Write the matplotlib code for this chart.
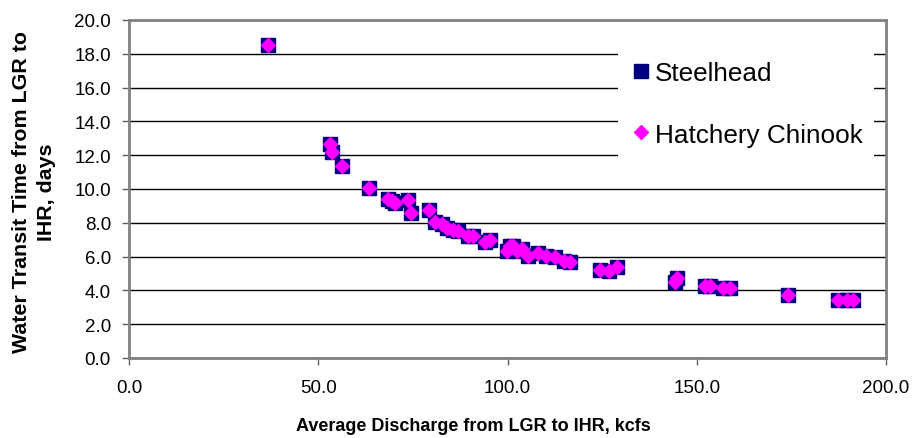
import matplotlib.pyplot as plt
from matplotlib.ticker import FormatStrFormatter

# average discharge LGR -> IHR (kcfs) and water transit time (days)
discharge = [36.8, 53.1, 53.7, 56.4, 63.5, 68.5, 69.5, 70.3, 73.8, 74.5,
             79.3, 80.8, 82.6, 83.9, 85.5, 87.0, 89.6, 91.0, 94.1, 95.4,
             99.8, 100.7, 101.5, 102.4, 103.7, 105.5, 108.1, 110.3, 112.6, 114.8,
             116.5, 124.4, 126.7, 128.8, 144.3, 144.8, 152.2, 153.5, 157.0, 158.8,
             174.2, 187.4, 189.6, 191.4]
transit_days = [18.5, 12.66, 12.17, 11.34, 10.04, 9.41, 9.30, 9.17, 9.35, 8.58,
                8.78, 8.03, 7.95, 7.67, 7.55, 7.53, 7.24, 7.24, 6.85, 7.0,
                6.35, 6.6, 6.65, 6.35, 6.45, 6.05, 6.2, 6.05, 5.95, 5.76,
                5.70, 5.23, 5.17, 5.37, 4.5, 4.72, 4.28, 4.28, 4.12, 4.12,
                3.75, 3.45, 3.45, 3.45]

steelhead_x, steelhead_y = discharge, transit_days
chinook_x, chinook_y = discharge, transit_days

x_ticks = [0, 50, 100, 150, 200]
y_ticks = [0, 2, 4, 6, 8, 10, 12, 14, 16, 18, 20]

plt.rcParams['font.family'] = ['Liberation Sans', 'DejaVu Sans']

fig = plt.figure(figsize=(9.14, 4.39), dpi=100)
ax = fig.add_axes([129 / 914, 80 / 439, 757 / 914, 338 / 439])

ax.plot(steelhead_x, steelhead_y, linestyle='none', marker='s', markersize=10.5,
        color='#000080', markeredgecolor='#000080', label='Steelhead', zorder=3)
ax.plot(chinook_x, chinook_y, linestyle='none', marker='D', markersize=6.8,
        color='#ff00ff', markeredgecolor='#ff00ff', label='Hatchery Chinook', zorder=4)

ax.set_xlim(0, 200)
ax.set_ylim(0, 20)
ax.set_xticks(x_ticks)
ax.set_yticks(y_ticks)
ax.xaxis.set_major_formatter(FormatStrFormatter('%.1f'))
ax.yaxis.set_major_formatter(FormatStrFormatter('%.1f'))
ax.tick_params(direction='out', length=5, width=1, color='#606060',
               labelsize=13.5, labelcolor='black')
ax.tick_params(axis='x', pad=10)
ax.tick_params(axis='y', pad=8)
ax.grid(axis='y', color='black', linewidth=1)
ax.set_axisbelow(True)
for side in ax.spines.values():
    side.set_color('#808080')
    side.set_linewidth(2)

fig.text(473 / 914, 1 - 427 / 439, 'Average Discharge from LGR to IHR, kcfs',
         ha='center', va='center', fontsize=13, fontweight='bold')
fig.text(34 / 914, 1 - 192 / 439, 'Water Transit Time from LGR to\nIHR, days',
         ha='center', va='center', rotation=90, fontsize=15.4, fontweight='bold',
         linespacing=1.4)

leg = ax.legend(loc='upper left', bbox_to_anchor=(618 / 914, 1 - 50 / 439),
                bbox_transform=fig.transFigure, fontsize=18.8, frameon=True,
                fancybox=False, edgecolor='none', facecolor='white', framealpha=1,
                labelspacing=1.45, handletextpad=0.1, handlelength=0.85,
                borderpad=0.45, borderaxespad=0)

fig.savefig('out.png', dpi=100)
